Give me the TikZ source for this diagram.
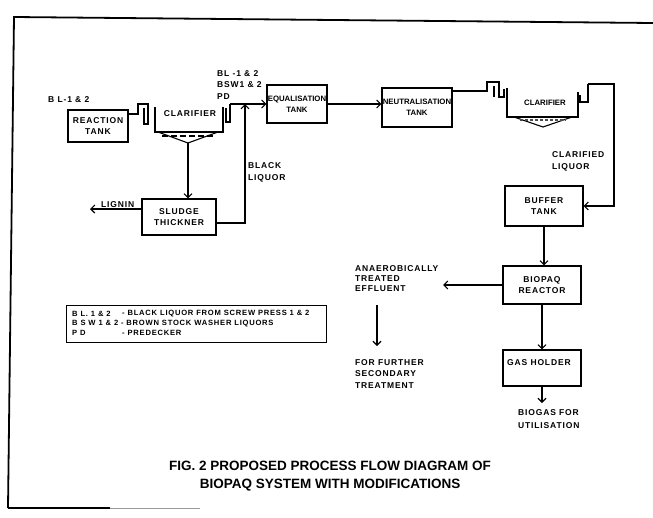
\documentclass[tikz,border=0pt]{standalone}
\usepackage{fontspec}
\setmainfont{Liberation Sans}
\newfontfamily\lbl[LetterSpace=10]{Liberation Sans}
\usetikzlibrary{arrows.meta}
\begin{document}
\begin{tikzpicture}[x=1pt,y=-1pt,
  box/.style={draw, line width=1.1pt, inner sep=0pt, align=center,
    font=\lbl\bfseries\fontsize{8.5}{11}\selectfont},
  tightbox/.style={box, font=\bfseries\fontsize{7.8}{11}\selectfont},
  lab/.style={inner sep=0pt, anchor=north west, align=left,
    font=\lbl\bfseries\fontsize{8.5}{11.5}\selectfont},
  leg/.style={inner sep=0pt, anchor=west,
    font=\lbl\bfseries\fontsize{7.6}{9}\selectfont},
  flow/.style={line width=1.1pt},
  arr/.style={flow, -{Straight Barb[length=4pt,width=8pt]}},
]
\useasboundingbox (0,0) rectangle (653,517);

% frame
\draw[line width=1.8pt] (8,508) -- (14,17) -- (653,23);
\draw[line width=1.4pt] (8,508) -- (110,508);
\draw[line width=0.6pt, black!40] (110,508) -- (200,508);

% boxes
\node[box, minimum width=60pt, minimum height=32pt] (react) at (98,126) {REACTION\\TANK};
\node[tightbox, minimum width=60pt, minimum height=38pt] (eq) at (297,104) {EQUALISATION\\TANK};
\node[tightbox, minimum width=70pt, minimum height=39pt] (neu) at (417,107.5) {NEUTRALISATION\\TANK};
\node[box, minimum width=74pt, minimum height=36pt] (thick) at (179,217) {SLUDGE\\THICKNER};
\node[box, minimum width=78pt, minimum height=40pt] (buf) at (544,206) {BUFFER\\TANK};
\node[box, minimum width=78pt, minimum height=38pt] (bio) at (542,285) {BIOPAQ\\REACTOR};
\node[box, minimum width=78pt, minimum height=36pt] (gas) at (542,368) {};
\node[lab] (gast) at (507,359) {GAS HOLDER};

% clarifier 1
\coordinate (c1in) at (138,114);
\draw[flow] (react.east |- c1in) -- (c1in) -- (138,104) -- (148,104) -- (148,124) -- (144,124) -- (144,108);
\draw[flow] (155,107) -- (155,132) -- (223,132) -- (223,107);
\draw[flow] (158,132) -- (188,143) -- (218,132);
\draw[flow, dash pattern=on 6pt off 3pt] (162,136) -- (214,136);
\coordinate (c1apex) at (188,143);
\node[box, draw=none] (clar1) at (190,114) {CLARIFIER};
\coordinate (c1out) at (230,104);
\draw[flow] (226,108) -- (226,122) -- (230,122) -- (c1out);
\draw[arr] (c1out) -- (eq.west |- c1out);

% black liquor return
\coordinate (bl) at (245,104);
\draw[arr] ([yshift=-6pt]thick.east) -| (bl);
\draw[arr] (c1apex) -- (c1apex |- thick.north);
\coordinate (lig) at (90,209);
\draw[arr] (thick.west |- lig) -- (lig);

% eq -> neu
\draw[arr] (eq.east) -- (eq.east -| neu.west);

% clarifier 2
\coordinate (c2in) at (487,91);
\draw[flow] (neu.east |- c2in) -- (c2in) -- (487,82) -- (499,82) -- (499,97) -- (504,97) -- (504,89);
\draw[flow] (494,86) -- (494,97);
\draw[flow] (507,88) -- (507,117) -- (578,117) -- (578,92);
\draw[flow] (514,117) -- (543,127) -- (572,117);
\draw[line width=2.4pt, dash pattern=on 3pt off 2pt, black!70] (520,120) -- (566,120);
\node[tightbox, draw=none] (clar2) at (545,103) {CLARIFIER};
\coordinate (c2out) at (588,84);
\draw[flow] (580,95) -- (580,102) -- (588,102) -- (c2out);
\coordinate (c2r) at (614,84);
\draw[arr] (c2out) -- (c2r) |- (buf.east);

% lower chain
\draw[arr] (buf.south) -- (buf.south |- bio.north);
\coordinate (eff) at (443,285);
\draw[arr] (bio.west) -- (eff);
\coordinate (d1) at (377,305);
\coordinate (d2) at (377,346);
\draw[arr] (d1) -- (d2);
\draw[arr] (bio.south) -- (gas.north);
\coordinate (bg) at (542,403);
\draw[arr] (gas.south) -- (bg);

% labels
\node[lab] (l1) at (48,96) {B L-1 \& 2};
\node[lab] (l2) at (217,70) {BL -1 \& 2\\BSW1 \& 2\\PD};
\node[lab, font=\lbl\bfseries\fontsize{8.5}{12}\selectfont] (l3) at (248,162) {BLACK\\LIQUOR};
\node[lab] (l4) at (101,201) {LIGNIN};
\node[lab, font=\lbl\bfseries\fontsize{8.5}{12}\selectfont] (l5) at (552,151) {CLARIFIED\\LIQUOR};
\node[lab, font=\lbl\bfseries\fontsize{8.5}{10}\selectfont] (l6) at (355,265) {ANAEROBICALLY\\TREATED\\EFFLUENT};
\node[lab] (l7) at (355,359) {FOR FURTHER\\SECONDARY\\TREATMENT};
\node[lab, font=\lbl\bfseries\fontsize{8.5}{13}\selectfont] (l8) at (518,409) {BIOGAS FOR\\UTILISATION};

% legend
\node[draw, line width=1pt, minimum width=260pt, minimum height=37pt, inner sep=0pt] (legbox) at (196,323.5) {};
\node[leg] (g1a) at (72,314) {B L. 1 \& 2};
\node[leg] (g1b) at (122,314) {- BLACK LIQUOR FROM SCREW PRESS 1 \& 2};
\node[leg] (g2) at (72,324) {B S W 1 \& 2 - BROWN STOCK WASHER LIQUORS};
\node[leg] (g3a) at (72,333) {P D};
\node[leg] (g3b) at (122,333) {- PREDECKER};

% caption
\node[font=\bfseries\fontsize{13.5}{18}\selectfont, align=center, inner sep=0pt] (cap) at (330,476)
  {FIG. 2 PROPOSED PROCESS FLOW DIAGRAM OF\\BIOPAQ SYSTEM WITH MODIFICATIONS};
\end{tikzpicture}
\end{document}
